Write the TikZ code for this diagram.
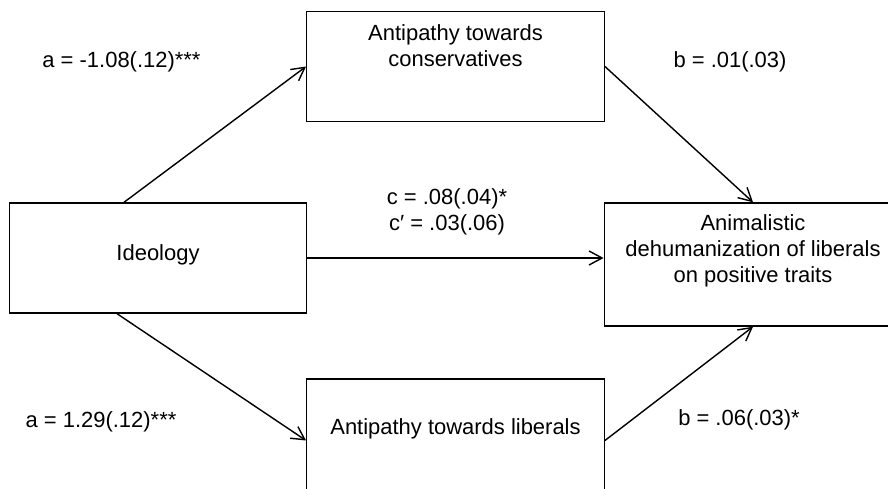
\documentclass[tikz,border=0pt]{standalone}
\usepackage{fontspec}
\setmainfont{Liberation Sans}
\usetikzlibrary{arrows.meta,positioning}

\begin{document}
\begin{tikzpicture}[
    font=\fontsize{12.5}{14.8}\selectfont,
    varbox/.style={draw, line width=0.8pt, minimum width=5.95cm, minimum height=2.2cm, inner sep=0pt},
    boxtext/.style={inner sep=0pt, align=center},
    effect/.style={line width=0.8pt, -{Straight Barb[length=2.6mm,width=2.8mm]}},
    coef/.style={inner sep=0pt, align=center}]
    \useasboundingbox (0,0) rectangle (17.76,9.76);
    % boxes
    \node[varbox] (ideol) at (3.16,4.6) {};
    \node[varbox] (cons) at (9.11,8.43) {};
    \node[varbox, minimum height=2.46cm] (lib) at (9.11,0.95) {};
    \node[varbox, minimum height=2.46cm] (outc) at (15.06,4.47) {};
    \node[boxtext, below=0.84cm of ideol.north] (ideolT) {Ideology};
    \node[boxtext, below=0.26cm of cons.north] (consT) {Antipathy towards\\conservatives};
    \node[boxtext, below=0.8cm of lib.north] (libT) {Antipathy towards liberals};
    \node[boxtext, below=0.24cm of outc.north] (outcT) {Animalistic\\dehumanization of liberals\\on positive traits};
    % paths
    \draw[effect] ([xshift=-0.68cm]ideol.north) -- (cons.west);
    \draw[effect] ([xshift=-0.82cm]ideol.south) -- (lib.west);
    \draw[effect] (cons.east) -- (outc.north);
    \draw[effect] (lib.east) -- (outc.south);
    \draw[effect] (ideol.east) -- (ideol.east -| outc.west);
    % coefficients
    \node[coef] (a1) at (2.43,8.52) {a = -1.08(.12)***};
    \node[coef] (a2) at (2.02,1.32) {a = 1.29(.12)***};
    \node[coef] (b1) at (14.6,8.52) {b = .01(.03)};
    \node[coef] (b2) at (14.78,1.36) {b = .06(.03)*};
    \node[coef] (c) at (8.94,5.53) {c = .08(.04)*\\c′ = .03(.06)};
\end{tikzpicture}
\end{document}
